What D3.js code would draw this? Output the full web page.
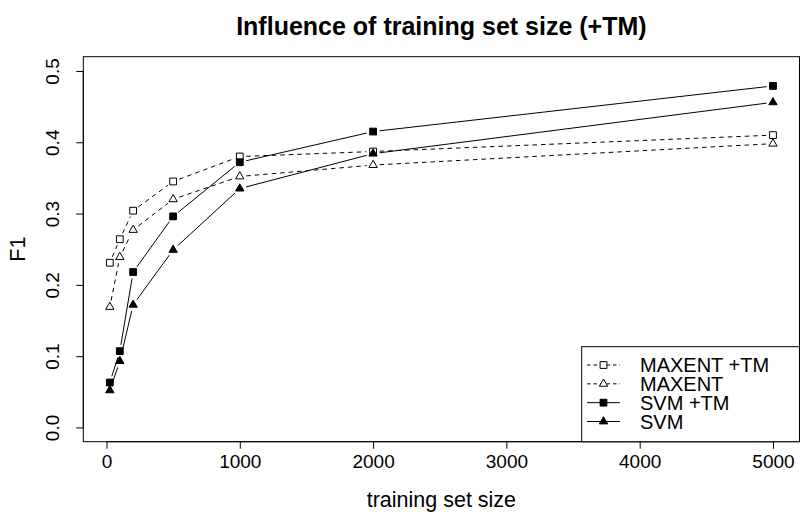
<!DOCTYPE html>
<html>
<head>
<meta charset="utf-8">
<script src="https://cdn.jsdelivr.net/npm/d3@7"></script>
<style>
  html, body { margin: 0; padding: 0; background: #fff; }
  svg { display: block; font-family: "Liberation Sans", Arial, sans-serif; }
</style>
</head>
<body>
<svg id="chart" width="800" height="515"></svg>
<script>
// Training set sizes used in the experiment
const sizes = [25, 100, 200, 500, 1000, 2000, 5000];

// F1 scores per configuration
const maxentTM = [0.231, 0.264, 0.304, 0.345, 0.380, 0.387, 0.410];
const maxent   = [0.169, 0.239, 0.277, 0.320, 0.352, 0.368, 0.398];
const svmTM    = [0.063, 0.107, 0.218, 0.296, 0.372, 0.415, 0.479];
const svm      = [0.052, 0.093, 0.172, 0.249, 0.335, 0.384, 0.456];

const xTicks = [0, 1000, 2000, 3000, 4000, 5000];
const yTicks = [0.0, 0.1, 0.2, 0.3, 0.4, 0.5];

const seriesNames = ["MAXENT +TM", "MAXENT", "SVM +TM", "SVM"];

const series = [
  { name: seriesNames[0], values: maxentTM, dashed: true,  shape: "square",   filled: false },
  { name: seriesNames[1], values: maxent,   dashed: true,  shape: "triangle", filled: false },
  { name: seriesNames[2], values: svmTM,    dashed: false, shape: "square",   filled: true },
  { name: seriesNames[3], values: svm,      dashed: false, shape: "triangle", filled: true }
];

const svg = d3.select("#chart");
const plot = { left: 83.3, right: 799.5, top: 56.7, bottom: 441.7 };

// Data range padded by 4% on each side
const xr = d3.extent(sizes), xp = (xr[1] - xr[0]) * 0.04;
const x = d3.scaleLinear().domain([xr[0] - xp, xr[1] + xp]).range([plot.left, plot.right]);
const y = d3.scaleLinear().domain([-0.02, 0.52]).range([plot.bottom, plot.top]);

const fontSize = 19;
const FONT = "Liberation Sans, Arial, sans-serif";

// Plot frame
svg.append("rect")
  .attr("x", plot.left).attr("y", plot.top)
  .attr("width", plot.right - plot.left).attr("height", plot.bottom - plot.top)
  .attr("fill", "none").attr("stroke", "#000").attr("stroke-width", 1);

// X axis
const xAxis = d3.axisBottom(x).tickValues(xTicks).tickFormat(d3.format("d")).tickSize(7).tickPadding(6);
const gx = svg.append("g").attr("transform", `translate(0,${plot.bottom})`).call(xAxis);
gx.select(".domain").attr("d", `M${x(xTicks[0])},0H${x(xTicks[xTicks.length - 1])}`);
gx.selectAll("text").attr("font-size", fontSize).attr("font-family", FONT).attr("fill", "#000");
gx.selectAll("line, path").attr("stroke", "#000");

// Y axis with labels rotated parallel to the axis
const yAxis = d3.axisLeft(y).tickValues(yTicks).tickFormat(d3.format(".1f")).tickSize(7);
const gy = svg.append("g").attr("transform", `translate(${plot.left},0)`).call(yAxis);
gy.select(".domain").attr("d", `M0,${y(yTicks[0])}V${y(yTicks[yTicks.length - 1])}`);
gy.selectAll("line, path").attr("stroke", "#000");
gy.selectAll("text")
  .attr("font-size", fontSize).attr("font-family", FONT).attr("fill", "#000")
  .attr("x", null).attr("dy", "0.35em")
  .attr("text-anchor", "middle")
  .attr("transform", "translate(-31,0) rotate(-90)");

// Titles
svg.append("text").attr("x", (plot.left + plot.right) / 2).attr("y", 35)
  .attr("text-anchor", "middle").attr("font-size", 25).attr("font-weight", "bold")
  .text("Influence of training set size (+TM)");
svg.append("text").attr("x", (plot.left + plot.right) / 2).attr("y", 507)
  .attr("text-anchor", "middle").attr("font-size", 21.5)
  .text("training set size");
svg.append("text").attr("transform", `translate(25,${(plot.top + plot.bottom) / 2}) rotate(-90)`)
  .attr("text-anchor", "middle").attr("font-size", 21.5)
  .text("F1");

// Marker path generator
function markerPath(shape) {
  if (shape === "square") return d3.symbol(d3.symbolSquare, 46)();
  return d3.symbol(d3.symbolTriangle, 30)();
}

// Lines drawn with gaps around each point
const gap = 6.5;
const gLines = svg.append("g");
series.forEach(s => {
  const pts = sizes.map((d, i) => [x(d), y(s.values[i])]);
  for (let i = 0; i < pts.length - 1; i++) {
    const [x0, y0] = pts[i], [x1, y1] = pts[i + 1];
    const len = Math.hypot(x1 - x0, y1 - y0);
    if (len <= 2 * gap) continue;
    const ux = (x1 - x0) / len, uy = (y1 - y0) / len;
    gLines.append("line")
      .attr("x1", x0 + ux * gap).attr("y1", y0 + uy * gap)
      .attr("x2", x1 - ux * gap).attr("y2", y1 - uy * gap)
      .attr("stroke", "#000").attr("stroke-width", 1)
      .attr("stroke-dasharray", s.dashed ? "4.5,4" : null);
  }
});

// Points
const gPts = svg.append("g");
series.forEach(s => {
  gPts.selectAll(null).data(sizes.map((d, i) => [d, s.values[i]])).enter()
    .append("path")
    .attr("d", markerPath(s.shape))
    .attr("transform", d => `translate(${x(d[0])},${y(d[1])})`)
    .attr("fill", s.filled ? "#000" : "#fff")
    .attr("stroke", "#000").attr("stroke-width", 1);
});

// Legend in the bottom-right corner
const leg = { left: 581.7, top: 346.7 };
svg.append("rect")
  .attr("x", leg.left).attr("y", leg.top)
  .attr("width", plot.right - leg.left).attr("height", plot.bottom - leg.top)
  .attr("fill", "#fff").attr("stroke", "#000").attr("stroke-width", 1);
const rowY = d3.scaleLinear().domain([0, 3]).range([365, 421.5]);
series.forEach((s, i) => {
  const yy = rowY(i);
  const g = svg.append("g");
  g.append("line").attr("x1", 587).attr("x2", 620).attr("y1", yy).attr("y2", yy)
    .attr("stroke", "#000").attr("stroke-width", 1)
    .attr("stroke-dasharray", s.dashed ? "3.5,3" : null);
  g.append("path").attr("d", markerPath(s.shape))
    .attr("transform", `translate(603.5,${yy})`)
    .attr("fill", s.filled ? "#000" : "#fff").attr("stroke", "#000").attr("stroke-width", 1);
  g.append("text").attr("x", 640).attr("y", yy).attr("dy", "0.36em")
    .attr("font-size", 20).text(s.name);
});
</script>
</body>
</html>
